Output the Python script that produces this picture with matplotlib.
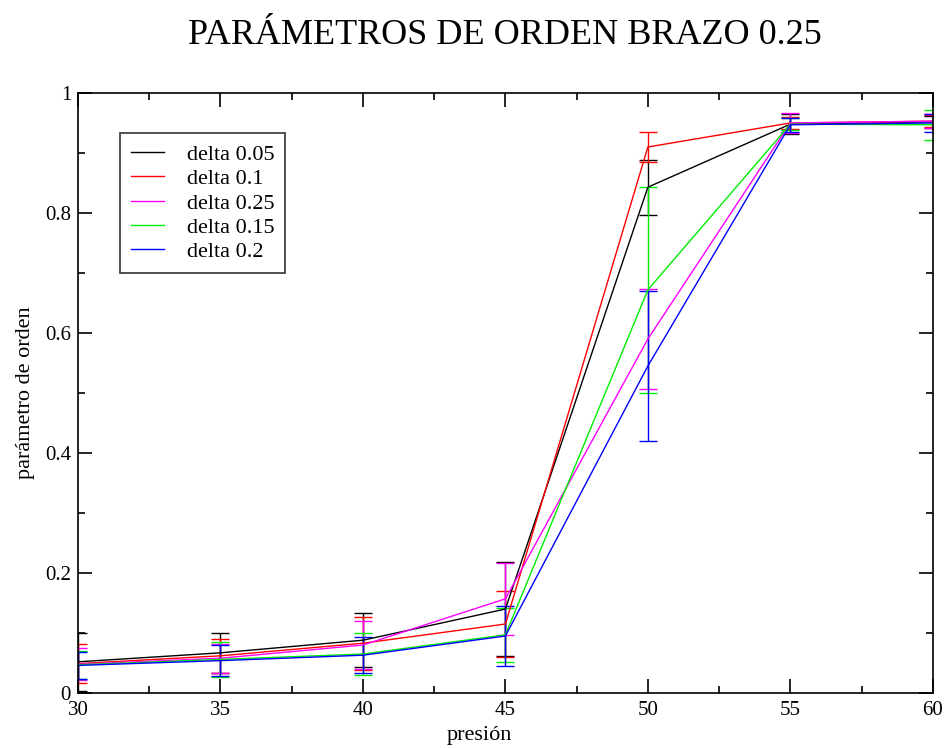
import numpy as np
import matplotlib
matplotlib.use("Agg")
import matplotlib.pyplot as plt
from matplotlib.ticker import MultipleLocator
from matplotlib.lines import Line2D

# presion values
presion = [30, 35, 40, 45, 50, 55, 60]

# order parameter per delta (mean, error)
d005 = [0.052, 0.067, 0.088, 0.140, 0.843, 0.948, 0.952]
e005 = [0.048, 0.033, 0.045, 0.078, 0.046, 0.017, 0.010]

d01 = [0.049, 0.062, 0.083, 0.115, 0.910, 0.950, 0.953]
e01 = [0.033, 0.028, 0.044, 0.055, 0.025, 0.010, 0.010]

d025 = [0.048, 0.058, 0.080, 0.157, 0.590, 0.950, 0.953]
e025 = [0.027, 0.024, 0.040, 0.060, 0.083, 0.017, 0.012]

d015 = [0.047, 0.056, 0.065, 0.097, 0.672, 0.948, 0.947]
e015 = [0.023, 0.029, 0.035, 0.045, 0.172, 0.010, 0.025]

d02 = [0.046, 0.054, 0.063, 0.095, 0.545, 0.947, 0.950]
e02 = [0.023, 0.026, 0.030, 0.050, 0.125, 0.012, 0.015]

series = [
    ("delta 0.05", d005, e005, "black"),
    ("delta 0.1", d01, e01, "red"),
    ("delta 0.25", d025, e025, "#ff00ff"),
    ("delta 0.15", d015, e015, "#00ee00"),
    ("delta 0.2", d02, e02, "#0000ff"),
]

plt.rcParams['font.family'] = ['Liberation Serif', 'DejaVu Serif']

fig = plt.figure(figsize=(9.47, 7.48), dpi=100)
ax = fig.add_axes([0.0824, 0.0735, 0.9026, 0.8022])

handles = []
for lab, y, e, c in series:
    ax.errorbar(presion, y, yerr=e, color=c, lw=1.0, elinewidth=1.0,
                capsize=6.5, capthick=1.0)
    handles.append(Line2D([], [], color=c, lw=1.0, label=lab))

ax.set_xlim(30, 60)
ax.set_ylim(0, 1)
ax.xaxis.set_major_locator(MultipleLocator(5))
ax.xaxis.set_minor_locator(MultipleLocator(2.5))
ax.yaxis.set_major_locator(MultipleLocator(0.2))
ax.yaxis.set_minor_locator(MultipleLocator(0.1))
ax.set_yticks([0, 0.2, 0.4, 0.6, 0.8, 1])
ax.set_yticklabels(["0", "0.2", "0.4", "0.6", "0.8", "1"])
ax.tick_params(which='both', direction='in', top=True, right=True,
               labelsize=15, width=1.2)
ax.tick_params(which='major', length=10)
ax.tick_params(axis='x', pad=6)
ax.tick_params(axis='y', pad=5)
ax.tick_params(which='minor', length=5)
for s in ax.spines.values():
    s.set_linewidth(1.2)

ax.set_xlabel("presión", fontsize=16)
ax.xaxis.set_label_coords(0.47, -0.055)
ax.set_ylabel("parámetro de orden", fontsize=16, labelpad=7)
fig.text(0.533, 0.953, "PARÁMETROS DE ORDEN BRAZO 0.25", fontsize=26,
         ha='center', va='center')

leg = ax.legend(handles=handles, loc='upper left',
                bbox_to_anchor=(0.049, 0.933), fontsize=16,
                frameon=True, fancybox=False, edgecolor='black',
                handlelength=1.5, handletextpad=1.0, borderpad=0.5,
                labelspacing=0.17, borderaxespad=0)
leg.get_frame().set_linewidth(1.2)

fig.savefig("out.png", dpi=100)
